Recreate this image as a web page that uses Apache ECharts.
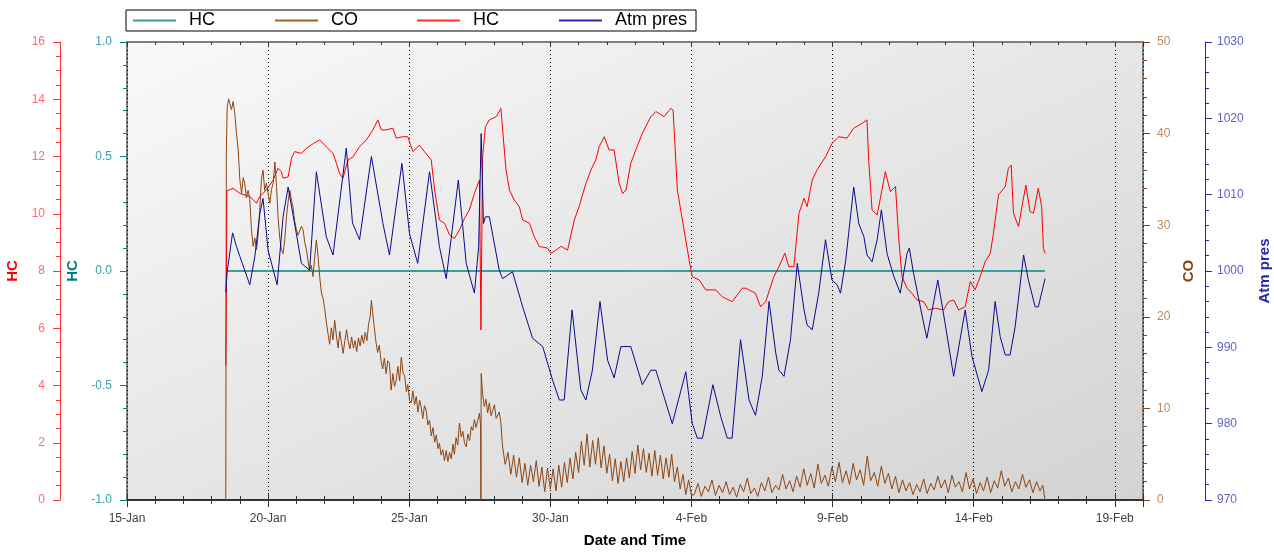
<!DOCTYPE html>
<html>
<head>
<meta charset="utf-8">
<title>HC / CO / Atm pres</title>
<script src="https://cdn.jsdelivr.net/npm/echarts@6/dist/echarts.min.js"></script>
<style>
  html, body { margin: 0; padding: 0; background: #fff; }
  #main { width: 1274px; height: 552px; }
</style>
</head>
<body>
<div id="main"></div>
<script>
// x values are days counted from 15-Jan 00:00
var xTickLabels = ['15-Jan', '20-Jan', '25-Jan', '30-Jan', '4-Feb', '9-Feb', '14-Feb', '19-Feb'];
var seriesKeys = ['hcFlat', 'co', 'hcRed', 'atm'];
var legendNames = ['HC', 'CO', 'HC', 'Atm pres'];

// HC (teal, -1..1)
var hcFlat = [[3.55, 0], [12.0, 0], [20.0, 0], [32.53, 0]];

// HC (red, 0..16)
var hcRed = [
    [3.50, 4.7], [3.54, 10.8], [3.76, 10.89], [4.00, 10.71], [4.35, 10.60], [4.59, 10.37], [4.70, 10.60],
    [4.94, 10.83], [5.18, 11.18], [5.35, 11.59], [5.47, 11.47], [5.53, 11.24], [5.71, 11.29], [5.83, 11.94],
    [5.94, 12.17], [6.18, 12.11], [6.36, 12.29], [6.60, 12.45], [6.83, 12.58], [7.06, 12.34], [7.30, 12.11],
    [7.42, 11.76], [7.53, 11.41], [7.65, 11.24], [7.83, 11.88], [8.01, 11.99], [8.24, 12.34], [8.48, 12.58],
    [8.71, 12.93], [8.89, 13.28], [9.01, 12.93], [9.19, 12.93], [9.42, 12.99], [9.54, 12.64], [9.77, 12.69],
    [9.95, 12.69], [10.13, 12.17], [10.36, 12.40], [10.54, 12.17], [10.78, 11.88], [10.90, 10.83], [11.07, 9.78],
    [11.25, 9.67], [11.43, 9.26], [11.60, 9.14], [11.78, 9.43], [11.96, 9.84], [12.13, 10.13], [12.31, 10.71],
    [12.49, 11.18], [12.54, 5.94], [12.60, 11.99], [12.70, 13.04], [12.84, 13.28], [13.08, 13.39], [13.25, 13.68],
    [13.31, 12.93], [13.43, 11.53], [13.55, 10.83], [13.72, 10.48], [13.90, 10.25], [14.02, 9.78], [14.26, 9.67],
    [14.43, 9.20], [14.61, 8.86], [14.90, 8.80], [15.02, 8.62], [15.20, 8.73], [15.38, 8.86], [15.61, 8.73],
    [15.85, 9.78], [16.02, 10.25], [16.26, 11.06], [16.44, 11.53], [16.61, 11.88], [16.73, 12.34], [16.91, 12.69],
    [17.08, 12.23], [17.26, 12.23], [17.44, 11.06], [17.56, 10.71], [17.68, 10.83], [17.85, 11.76], [18.03, 12.23],
    [18.26, 12.81], [18.56, 13.39], [18.74, 13.57], [19.03, 13.39], [19.27, 13.68], [19.35, 13.62], [19.50, 10.83],
    [19.68, 9.78], [19.92, 8.38], [20.03, 7.80], [20.27, 7.69], [20.51, 7.34], [20.86, 7.34], [21.09, 7.10],
    [21.45, 6.93], [21.80, 7.40], [21.92, 7.40], [22.27, 7.22], [22.45, 6.75], [22.63, 6.93], [22.92, 7.80],
    [23.10, 8.15], [23.31, 8.62], [23.45, 8.15], [23.63, 8.15], [23.81, 10.02], [23.99, 10.54], [24.10, 10.25],
    [24.28, 11.18], [24.45, 11.53], [24.75, 11.99], [24.98, 12.46], [25.22, 12.69], [25.51, 12.64], [25.75, 12.99],
    [26.05, 13.16], [26.22, 13.28], [26.28, 11.88], [26.40, 10.13], [26.58, 9.96], [26.75, 10.83], [26.87, 11.47],
    [27.05, 10.77], [27.23, 10.95], [27.34, 9.20], [27.46, 7.80], [27.64, 7.40], [27.81, 7.22], [27.99, 6.99],
    [28.23, 6.93], [28.40, 6.64], [28.64, 6.70], [28.93, 6.64], [29.11, 6.93], [29.29, 6.99], [29.47, 6.64],
    [29.70, 6.75], [29.88, 7.63], [30.05, 7.34], [30.23, 7.80], [30.41, 8.33], [30.59, 8.62], [30.70, 9.32],
    [30.88, 10.66], [31.12, 10.95], [31.23, 11.59], [31.33, 11.70], [31.41, 10.02], [31.59, 9.55], [31.71, 10.25],
    [31.85, 11.00], [32.00, 10.07], [32.12, 10.02], [32.29, 10.89], [32.41, 10.25], [32.47, 8.79], [32.53, 8.62]
];

// CO (0..50)
var coData = [
    [3.50, 0], [3.52, 38.0], [3.55, 42.9], [3.60, 43.8], [3.64, 43.3], [3.70, 42.6], [3.76, 43.5], [3.82, 42.2],
    [3.88, 40.0], [3.94, 38.2], [4.00, 34.9], [4.06, 33.5], [4.12, 35.2], [4.17, 34.6], [4.23, 33.0], [4.29, 33.8],
    [4.35, 32.8], [4.41, 29.5], [4.47, 27.7], [4.53, 28.6], [4.59, 27.3], [4.64, 28.7], [4.70, 31.5], [4.76, 34.9],
    [4.82, 36.0], [4.88, 33.8], [4.94, 34.6], [5.00, 33.5], [5.06, 32.4], [5.12, 33.9], [5.18, 34.6], [5.24, 36.9],
    [5.30, 34.2], [5.35, 31.0], [5.41, 28.7], [5.47, 27.3], [5.53, 26.9], [5.59, 28.4], [5.65, 30.9], [5.71, 32.6],
    [5.77, 33.8], [5.83, 32.7], [5.88, 32.0], [5.94, 30.5], [6.00, 29.5], [6.06, 28.9], [6.12, 28.7], [6.18, 29.9],
    [6.24, 29.5], [6.30, 28.1], [6.36, 27.3], [6.42, 26.0], [6.47, 25.1], [6.53, 25.6], [6.59, 24.4], [6.65, 26.5],
    [6.71, 28.4], [6.77, 26.6], [6.83, 24.3], [6.89, 22.6], [6.95, 22.0], [7.00, 21.0], [7.06, 19.5], [7.12, 18.2],
    [7.18, 17.0], [7.24, 18.8], [7.30, 17.5], [7.36, 19.6], [7.42, 17.9], [7.48, 16.6], [7.54, 18.4], [7.60, 17.2],
    [7.66, 16.0], [7.72, 17.4], [7.78, 18.6], [7.84, 17.3], [7.90, 16.5], [7.96, 17.8], [8.02, 16.6], [8.08, 17.4],
    [8.14, 16.2], [8.20, 17.7], [8.26, 16.8], [8.32, 18.0], [8.38, 17.1], [8.44, 18.3], [8.50, 17.4], [8.56, 19.2],
    [8.62, 20.1], [8.66, 21.8], [8.70, 20.6], [8.76, 18.9], [8.82, 17.3], [8.88, 16.1], [8.94, 16.9], [9.00, 15.2],
    [9.06, 14.3], [9.12, 15.5], [9.18, 13.8], [9.24, 15.2], [9.30, 14.9], [9.36, 12.0], [9.42, 13.8], [9.48, 12.4],
    [9.54, 13.1], [9.60, 14.6], [9.66, 13.0], [9.72, 15.6], [9.78, 13.9], [9.84, 13.5], [9.90, 11.8], [9.95, 12.6],
    [10.01, 10.9], [10.07, 10.6], [10.13, 11.9], [10.19, 10.4], [10.25, 11.3], [10.31, 9.6], [10.37, 10.9],
    [10.42, 10.2], [10.48, 8.9], [10.54, 10.3], [10.60, 9.8], [10.66, 8.2], [10.72, 8.7], [10.78, 7.0], [10.84, 7.9],
    [10.90, 6.3], [10.96, 7.1], [11.02, 5.6], [11.07, 6.2], [11.13, 4.9], [11.19, 5.5], [11.25, 4.3], [11.31, 5.4],
    [11.37, 4.2], [11.43, 5.2], [11.49, 4.5], [11.55, 6.1], [11.60, 5.0], [11.66, 6.8], [11.72, 6.0], [11.78, 8.4],
    [11.84, 6.9], [11.90, 7.5], [11.96, 6.2], [12.02, 5.8], [12.08, 7.2], [12.14, 6.5], [12.20, 8.0], [12.25, 7.6],
    [12.31, 8.8], [12.37, 7.9], [12.43, 8.7], [12.49, 9.5], [12.53, 8.0], [12.54, 0], [12.55, 13.8], [12.60, 11.6],
    [12.66, 10.2], [12.72, 11.0], [12.78, 9.5], [12.84, 10.6], [12.90, 9.2], [12.96, 9.8], [13.02, 10.4],
    [13.08, 8.9], [13.13, 8.7], [13.19, 9.6], [13.25, 8.4], [13.30, 6.0], [13.40, 3.9], [13.50, 5.2], [13.60, 2.8],
    [13.70, 4.9], [13.80, 2.5], [13.90, 4.6], [14.00, 1.9], [14.10, 4.0], [14.20, 1.6], [14.30, 3.8], [14.40, 2.0],
    [14.50, 4.3], [14.60, 1.5], [14.70, 3.6], [14.80, 0.9], [14.90, 3.5], [15.00, 1.2], [15.10, 3.4], [15.20, 1.0],
    [15.30, 3.8], [15.40, 1.4], [15.50, 4.1], [15.60, 1.9], [15.70, 4.6], [15.80, 2.3], [15.90, 5.2], [16.00, 3.0],
    [16.10, 6.4], [16.20, 3.8], [16.30, 7.2], [16.40, 3.6], [16.50, 6.5], [16.60, 3.9], [16.70, 6.8], [16.80, 3.5],
    [16.90, 5.9], [17.00, 2.9], [17.10, 5.0], [17.20, 2.1], [17.30, 4.5], [17.40, 1.8], [17.50, 4.2], [17.60, 2.0],
    [17.70, 4.6], [17.80, 2.4], [17.90, 5.3], [18.00, 2.9], [18.10, 6.0], [18.20, 3.3], [18.30, 5.6], [18.40, 3.0],
    [18.50, 5.1], [18.60, 2.6], [18.70, 5.4], [18.80, 2.7], [18.90, 4.9], [19.00, 2.3], [19.10, 4.6], [19.20, 2.5],
    [19.30, 5.0], [19.40, 2.0], [19.50, 3.6], [19.60, 1.2], [19.70, 2.8], [19.80, 0.6], [19.90, 2.2], [20.00, 0.5],
    [20.10, 0.6], [20.23, 1.8], [20.35, 0.4], [20.48, 1.5], [20.60, 0.9], [20.73, 2.2], [20.85, 0.5], [20.98, 1.6],
    [21.10, 0.8], [21.23, 2.0], [21.35, 0.6], [21.48, 1.4], [21.60, 0.3], [21.73, 1.7], [21.85, 0.9], [21.98, 2.4],
    [22.10, 0.7], [22.23, 1.3], [22.35, 0.4], [22.48, 1.9], [22.60, 1.0], [22.73, 2.5], [22.85, 0.8], [22.98, 1.6],
    [23.10, 1.1], [23.23, 2.8], [23.35, 1.2], [23.48, 2.1], [23.60, 0.9], [23.73, 2.6], [23.85, 1.4], [23.98, 3.4],
    [24.10, 1.6], [24.23, 2.9], [24.35, 1.3], [24.48, 3.9], [24.60, 1.8], [24.73, 2.7], [24.85, 1.5], [24.98, 3.6],
    [25.10, 2.0], [25.23, 4.1], [25.35, 1.9], [25.48, 3.2], [25.60, 1.7], [25.73, 4.0], [25.85, 2.2], [25.98, 3.3],
    [26.10, 1.6], [26.23, 4.8], [26.35, 2.1], [26.48, 3.0], [26.60, 1.5], [26.73, 3.7], [26.85, 1.8], [26.98, 2.9],
    [27.10, 1.2], [27.23, 2.6], [27.35, 0.8], [27.48, 2.2], [27.60, 1.0], [27.73, 1.9], [27.85, 0.6], [27.98, 1.7],
    [28.10, 0.9], [28.23, 2.3], [28.35, 0.7], [28.48, 1.8], [28.60, 1.1], [28.73, 2.6], [28.85, 1.3], [28.98, 2.2],
    [29.10, 0.8], [29.23, 2.7], [29.35, 1.4], [29.48, 2.0], [29.60, 0.9], [29.73, 3.0], [29.85, 1.2], [29.98, 2.3],
    [30.10, 0.7], [30.23, 1.9], [30.35, 1.0], [30.48, 2.5], [30.60, 0.8], [30.73, 2.1], [30.85, 1.3], [30.98, 3.2],
    [31.10, 1.5], [31.23, 2.4], [31.35, 0.9], [31.48, 2.0], [31.60, 1.2], [31.73, 2.8], [31.85, 1.4], [31.98, 2.2],
    [32.10, 0.8], [32.23, 2.0], [32.35, 1.0], [32.45, 1.6], [32.53, 0]
];

// Atm pres (970..1030)
var atmData = [
    [3.50, 997.2], [3.55, 999.9], [3.74, 1005.0], [3.88, 1003.2], [4.00, 1001.9], [4.35, 998.2], [4.53, 1001.9],
    [4.71, 1007.6], [4.82, 1009.5], [5.00, 1002.7], [5.32, 998.2], [5.53, 1007.1], [5.71, 1011.0], [6.00, 1004.9],
    [6.18, 1001.0], [6.47, 1000.1], [6.71, 1013.0], [7.06, 1004.5], [7.30, 1002.1], [7.77, 1016.1], [7.99, 1006.3],
    [8.24, 1004.1], [8.66, 1015.0], [9.07, 1006.2], [9.30, 1002.1], [9.74, 1014.1], [10.01, 1004.9], [10.30, 1001.0],
    [10.72, 1013.0], [11.07, 1003.2], [11.31, 999.0], [11.74, 1011.9], [12.02, 1001.0], [12.31, 997.1],
    [12.46, 1003.2], [12.55, 1018.0], [12.63, 1006.2], [12.70, 1007.1], [12.84, 1007.1], [13.19, 1000.1],
    [13.31, 999.0], [13.66, 999.9], [14.02, 995.3], [14.37, 991.2], [14.73, 990.1], [15.08, 985.7], [15.32, 983.1],
    [15.49, 983.1], [15.77, 994.9], [16.08, 984.4], [16.26, 983.1], [16.49, 987.0], [16.76, 996.0], [17.03, 988.3],
    [17.26, 986.0], [17.50, 990.1], [17.85, 990.1], [18.26, 985.1], [18.56, 987.0], [18.74, 987.0], [19.32, 980.0],
    [19.80, 986.8], [20.03, 980.0], [20.21, 978.1], [20.39, 978.1], [20.76, 985.1], [21.04, 980.9], [21.27, 978.1],
    [21.44, 978.1], [21.74, 991.0], [22.04, 983.1], [22.27, 981.1], [22.51, 986.2], [22.75, 996.0], [22.99, 989.2],
    [23.10, 987.0], [23.28, 986.2], [23.51, 991.0], [23.75, 1001.0], [23.99, 994.9], [24.10, 992.9], [24.28, 992.3],
    [24.51, 997.1], [24.75, 1004.1], [24.98, 998.8], [25.16, 998.2], [25.28, 997.1], [25.46, 1001.2],
    [25.75, 1011.0], [25.93, 1006.2], [26.11, 1004.5], [26.22, 1002.1], [26.40, 1001.2], [26.58, 1004.1],
    [26.73, 1008.0], [26.93, 1002.3], [27.17, 999.3], [27.40, 997.1], [27.64, 1002.3], [27.72, 1003.0],
    [27.87, 999.7], [28.17, 994.2], [28.34, 991.2], [28.73, 998.8], [28.99, 993.1], [29.29, 986.2], [29.70, 994.9],
    [29.94, 988.8], [30.29, 984.2], [30.53, 987.0], [30.76, 996.0], [30.94, 991.4], [31.12, 989.0], [31.29, 989.0],
    [31.47, 992.7], [31.77, 1002.1], [31.94, 998.8], [32.18, 995.3], [32.29, 995.3], [32.53, 999.0]
];

var chart = echarts.init(document.getElementById('main'), null, { renderer: 'canvas' });

// plot background: light top-left, darker bottom-right
var plotBg = new echarts.graphic.LinearGradient(127, 42, 470, 803, [
    { offset: 0, color: '#f9f9f9' },
    { offset: 0.5, color: '#e6e6e6' },
    { offset: 1, color: '#d3d3d3' }
], true);

var FONT = 'Arial, Liberation Sans, sans-serif';

function xAxisBase(pos, inside, len, minorLen) {
    return {
        type: 'value',
        position: pos,
        min: 0,
        max: 36,
        interval: 5,
        axisLine: { show: false, onZero: false },
        axisTick: { show: true, inside: inside, length: len, lineStyle: { color: '#333', width: 1 } },
        minorTick: { show: true, splitNumber: 5, length: minorLen, lineStyle: { color: '#333', width: 1 } },
        axisLabel: { show: false },
        splitLine: { show: false }
    };
}

var xMain = xAxisBase('bottom', false, 7, 4);
xMain.axisLine = { show: true, onZero: false, lineStyle: { color: '#333', width: 2 } };
xMain.axisLabel = {
    show: true,
    color: '#404040',
    fontSize: 12,
    fontFamily: FONT,
    margin: 13,
    formatter: function (v) {
        return v % 5 === 0 ? (xTickLabels[v / 5] || '') : '';
    }
};
xMain.splitLine = { show: true, lineStyle: { color: '#000', type: [1, 3], width: 1 } };
xMain.name = 'Date and Time';
xMain.nameLocation = 'middle';
xMain.nameGap = 33;
xMain.nameTextStyle = { color: '#000', fontSize: 15, fontWeight: 'bold', fontFamily: FONT };

function yAxisBase(opt) {
    return {
        type: 'value',
        position: opt.pos,
        offset: opt.offset,
        min: opt.min,
        max: opt.max,
        interval: opt.interval,
        name: opt.name,
        nameLocation: 'middle',
        nameGap: opt.nameGap,
        nameTextStyle: { color: opt.nameColor, fontSize: 15, fontWeight: 'bold', fontFamily: FONT },
        axisLine: { show: opt.line, onZero: false, lineStyle: { color: opt.lineColor, width: 1 } },
        axisTick: { show: true, length: 7, lineStyle: { color: opt.lineColor, width: 1 } },
        minorTick: { show: true, splitNumber: opt.minor, length: 4, lineStyle: { color: opt.lineColor, width: 1 } },
        axisLabel: {
            color: opt.labelColor,
            fontSize: 12,
            fontFamily: FONT,
            margin: opt.margin,
            formatter: opt.formatter || function (v) { return String(v); }
        },
        splitLine: { show: false }
    };
}

var option = {
    animation: false,
    backgroundColor: '#ffffff',
    grid: {
        left: 127, right: 131, top: 42, bottom: 52,
        outerBoundsMode: 'none',
        containLabel: false,
        show: true,
        borderColor: '#808080',
        borderWidth: 2,
        backgroundColor: plotBg
    },
    legend: {
        data: seriesKeys,
        left: 126,
        top: 10,
        orient: 'horizontal',
        icon: 'rect',
        itemWidth: 43,
        itemHeight: 2,
        itemGap: 12,
        padding: [0, 7, 0, 7],
        borderColor: '#000',
        borderWidth: 1,
        backgroundColor: '#fff',
        selectedMode: false,
        formatter: function (name) {
            return legendNames[seriesKeys.indexOf(name)];
        },
        textStyle: {
            color: '#000',
            fontSize: 18,
            lineHeight: 21,
            width: 74,
            padding: [0, 0, 0, 8],
            fontFamily: FONT
        }
    },
    xAxis: [
        xMain,
        xAxisBase('bottom', true, 7, 4),
        xAxisBase('top', true, 5, 3)
    ],
    yAxis: [
        yAxisBase({ pos: 'left', offset: 0, min: -1, max: 1, interval: 0.5, minor: 5, name: 'HC', nameGap: 45,
            nameColor: '#008080', line: false, lineColor: '#008080', labelColor: '#3a9fae', margin: 15,
            formatter: function (v) { return v.toFixed(1); } }),
        yAxisBase({ pos: 'left', offset: 67, min: 0, max: 16, interval: 2, minor: 4, name: 'HC', nameGap: 39,
            nameColor: '#ff0000', line: true, lineColor: '#ff3030', labelColor: '#ff6a6a', margin: 15 }),
        yAxisBase({ pos: 'right', offset: 0, min: 0, max: 50, interval: 10, minor: 5, name: 'CO', nameGap: 36,
            nameColor: '#8b4513', line: false, lineColor: '#8b4513', labelColor: '#c08a55', margin: 14 }),
        yAxisBase({ pos: 'right', offset: 62, min: 970, max: 1030, interval: 10, minor: 5, name: 'Atm pres', nameGap: 52,
            nameColor: '#2a2aa8', line: true, lineColor: '#2a2aa8', labelColor: '#6262c4', margin: 12 })
    ],
    series: [
        {
            name: 'hcFlat', type: 'line', xAxisIndex: 0, yAxisIndex: 0, data: hcFlat,
            symbol: 'none', lineStyle: { color: '#3a9e9a', width: 2 }, itemStyle: { color: '#3a9e9a' }
        },
        {
            name: 'co', type: 'line', xAxisIndex: 0, yAxisIndex: 2, data: coData,
            symbol: 'none', lineStyle: { color: '#8b4513', width: 1 }, itemStyle: { color: '#a0622d' }
        },
        {
            name: 'hcRed', type: 'line', xAxisIndex: 0, yAxisIndex: 1, data: hcRed,
            symbol: 'none', lineStyle: { color: '#ff0000', width: 1 }, itemStyle: { color: '#ff3030' }
        },
        {
            name: 'atm', type: 'line', xAxisIndex: 0, yAxisIndex: 3, data: atmData,
            symbol: 'none', lineStyle: { color: '#0a0a8a', width: 1 }, itemStyle: { color: '#2a2aa8' }
        }
    ]
};

chart.setOption(option);
</script>
</body>
</html>
